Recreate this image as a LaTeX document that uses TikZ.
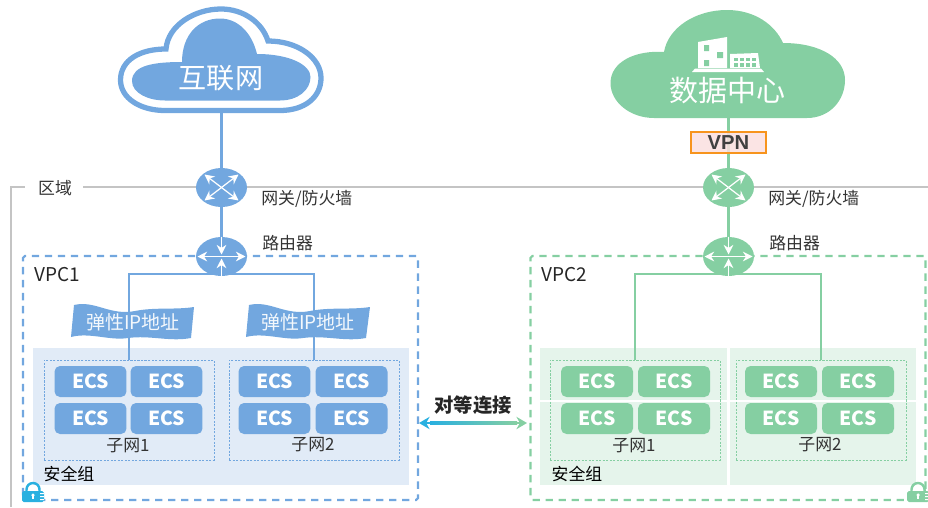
\documentclass[tikz,border=0pt]{standalone}
\usepackage{fontspec}
\setmainfont{Noto Sans CJK SC}
\newfontfamily\vpnfont{Liberation Sans}
\usetikzlibrary{shapes.geometric,arrows.meta,backgrounds}
\definecolor{netblue}{HTML}{72A7DF}
\definecolor{netgreen}{HTML}{85CFA2}
\definecolor{zoneblue}{HTML}{E1EBF7}
\definecolor{zonegreen}{HTML}{E5F4EB}
\definecolor{peercyan}{HTML}{29B0E0}
\definecolor{vpnpink}{HTML}{FADFDF}
\definecolor{vpnorange}{HTML}{F7941D}
\definecolor{regiongray}{HTML}{C4C4C4}
\tikzset{
	gatebox/.style={ellipse, fill=#1, minimum width=1.02cm, minimum height=0.78cm, inner sep=0pt},
	vpcbox/.style={draw=#1, dash pattern=on 4.2pt off 3.2pt, line width=1.2pt, rounded corners=1pt, minimum width=7.9cm, minimum height=4.88cm, inner sep=0pt},
	subnetbox/.style={draw=#1, dash pattern=on 1.2pt off 0.8pt, line width=0.4pt, minimum width=3.4cm, minimum height=2cm, inner sep=0pt},
	ecsbox/.style={fill=#1, text=white, font=\bfseries\fontsize{11}{11}\selectfont, rounded corners=0.11cm, minimum width=1.44cm, minimum height=0.62cm, inner sep=0pt},
	link/.style={draw=#1, line width=1.2pt},
	tag/.style={font=\fontsize{9.6}{9.6}\selectfont, text=black!80, inner sep=0pt},
	whitearrow/.style={white, line width=0.7pt, {Stealth[length=5.5pt,width=5.5pt]}-{Stealth[length=5.5pt,width=5.5pt]}},
	inarrow/.style={white, line width=0.7pt, -{Stealth[length=5.5pt,width=5.5pt]}}
}
\begin{document}
\begin{tikzpicture}[x=0.02cm,y=-0.02cm]
	\useasboundingbox (0,0) rectangle (928,507);
	% region outline
	\node[tag] (region) at (55,188) {区域};
	\coordinate (regionfoot) at (11,507);
	\coordinate (regionleft) at (25,187);
	\coordinate (regionright) at (83,187);
	\coordinate (regionend) at (928,187);
	\draw[regiongray, line width=1.2pt] (regionfoot) |- (regionleft);
	\draw[regiongray, line width=1.2pt] (regionright) -- (regionend);
	% clouds
	\draw[netblue, line width=3pt] (165,110.5) -- (280,110.5) .. controls (305,110.5) and (321,97) .. (321,78) .. controls (321,58) and (298,41) .. (268,41) .. controls (262,22) and (243,9) .. (221,9) .. controls (195,9) and (168,25) .. (166,49) .. controls (140,49) and (120.5,60) .. (120.5,80) .. controls (120.5,98) and (140,110.5) .. (165,110.5) -- cycle;
	\fill[netblue] (165,100.5) -- (280,100.5) .. controls (298,100.5) and (310.5,90) .. (310.5,77) .. controls (310.5,65) and (290,54) .. (257,54) .. controls (252,33) and (238,18.5) .. (220,18.5) .. controls (198,18.5) and (182,35) .. (182,62) .. controls (155,62) and (132,65) .. (132,81) .. controls (132,93) and (148,100.5) .. (165,100.5) -- cycle;
	\fill[netgreen] (654,118) -- (807,118) .. controls (830,118) and (845,100) .. (845,80) .. controls (845,58) and (820,43) .. (783,43) .. controls (775,25) and (755,10) .. (727,10) .. controls (695,10) and (668,28) .. (664,52) .. controls (635,50) and (610.5,62) .. (610.5,83) .. controls (610.5,102) and (630,118) .. (654,118) -- cycle;
	\node[white, font=\fontsize{16}{16}\selectfont, inner sep=0pt] (internet) at (221,78) {互联网};
	\node[white, font=\fontsize{16.5}{16.5}\selectfont, inner sep=0pt] (datacenter) at (727,91) {数据中心};
	\coordinate (internetfoot) at (221.5,112);
	\coordinate (datafoot) at (728.5,117);
	% building icon
	\fill[white] (698,42) -- (727,37) -- (727,68) -- (698,68) -- cycle;
	\fill[white] (730,54) -- (758,53) -- (760,68) -- (730,68) -- cycle;
	\fill[white] (692,72) -- (695,68.5) -- (761,68.5) -- (764,72) -- cycle;
	\fill[netgreen] (704,45) rectangle (709,51) (717,52) rectangle (723,58) (704,60) rectangle (709,66);
	\foreach \wx in {734,740,746,752} {
		\fill[netgreen] (\wx,57.5) rectangle ++(4,3.5);
		\fill[netgreen] (\wx,63) rectangle ++(4,3.5);
	}
	% vpc frames
	\node[vpcbox=netblue] (vpcA) at (220.5,378) {};
	\node[vpcbox=netgreen] (vpcB) at (728,378) {};
	\node[font=\fontsize{10.8}{10.8}\selectfont, text=black!85, anchor=west, inner sep=0pt] (vpclabelA) at (34,275) {VPC1};
	\node[font=\fontsize{10.8}{10.8}\selectfont, text=black!85, anchor=west, inner sep=0pt] (vpclabelB) at (541,275) {VPC2};
	% gateways and routers
	\node[gatebox=netblue] (gateA) at (221.5,187.5) {};
	\node[gatebox=netgreen] (gateB) at (728.5,187.5) {};
	\node[gatebox=netblue] (routerA) at (221.5,256.5) {};
	\node[gatebox=netgreen] (routerB) at (728.5,256.5) {};
	\foreach \gw in {gateA,gateB} {
		\begin{scope}[shift={(\gw)}]
			\draw[whitearrow] (-17,-13) -- (17,13);
			\draw[whitearrow] (-17,13) -- (17,-13);
		\end{scope}
	}
	\foreach \rt in {routerA,routerB} {
		\begin{scope}[shift={(\rt)}]
			\draw[whitearrow] (-24,0) -- (24,0);
			\draw[inarrow] (0,-20) -- (0,-2);
			\draw[inarrow] (0,20) -- (0,2);
		\end{scope}
	}
	\node[tag, anchor=west] (gatelabelA) at (261,199) {网关/防火墙};
	\node[tag, anchor=west] (gatelabelB) at (768,199) {网关/防火墙};
	\node[tag, anchor=west] (routerlabelA) at (262,243) {路由器};
	\node[tag, anchor=west] (routerlabelB) at (769,243) {路由器};
	% vpn
	\node[draw=vpnorange, fill=vpnpink, fill opacity=0.85, text opacity=1, line width=1.3pt, minimum width=1.5cm, minimum height=0.43cm, inner sep=0pt, text=black!75, font=\vpnfont\bfseries\fontsize{11.5}{11.5}\selectfont] (vpn) at (728.5,142.5) {VPN};
	% subnets
	\node[subnetbox=netblue] (subnetA) at (129,410) {};
	\node[subnetbox=netblue] (subnetB) at (314,410) {};
	\node[subnetbox=netgreen] (subnetC) at (635,410) {};
	\node[subnetbox=netgreen] (subnetD) at (821,410) {};
	\coordinate (busA) at (221.5,274);
	\coordinate (busB) at (728.5,274);
	% security groups and connectors
	\begin{scope}[on background layer]
		\fill[zoneblue] (33,348) rectangle (409,485);
		\fill[zonegreen] (540,348) rectangle (727,485);
		\fill[zonegreen] (730,348) rectangle (916,485);
		\fill[white] (540,400) rectangle (916,402);
		\draw[link=netblue] (internetfoot) -- (gateA);
		\draw[link=netblue] (gateA) -- (routerA);
		\draw[link=netgreen] (datafoot) -- (gateB);
		\draw[link=netgreen] (gateB) -- (routerB);
		\draw[link=netblue] (busA) -| (subnetA.north);
		\draw[link=netblue] (busA) -| (subnetB.north);
		\draw[link=netgreen] (busB) -| (subnetC.north);
		\draw[link=netgreen] (busB) -| (subnetD.north);
	\end{scope}
	% elastic ip flags
	\fill[netblue] (74,305) .. controls (95,300) and (110,316) .. (135,311) .. controls (155,307) and (175,310) .. (194,307) -- (191,338) .. controls (170,342) and (150,335) .. (128,338) .. controls (110,341) and (90,332) .. (71,337) -- cycle;
	\fill[netblue] (249,305) .. controls (270,300) and (285,316) .. (310,311) .. controls (330,307) and (350,310) .. (370,307) -- (366,338) .. controls (345,342) and (325,335) .. (303,338) .. controls (285,341) and (265,332) .. (246,337) -- cycle;
	\node[text=white!92!netblue, font=\fontsize{10.8}{10.8}\selectfont, inner sep=0pt] (eipA) at (133,322) {弹性IP地址};
	\node[text=white!92!netblue, font=\fontsize{10.8}{10.8}\selectfont, inner sep=0pt] (eipB) at (308,322) {弹性IP地址};
	% ecs boxes
	\foreach \ex/\ey/\en in {90.5/381.5/a,166.5/381.5/b,90.5/418.5/c,166.5/418.5/d,274.5/381.5/e,351.5/381.5/f,274.5/418.5/g,351.5/418.5/h} {
		\node[ecsbox=netblue] (ecs\en) at (\ex,\ey) {ECS};
	}
	\foreach \ex/\ey/\en in {597/381.5/i,674/381.5/j,597/418.5/k,674/418.5/l,781/381.5/m,858/381.5/n,781/418.5/o,858/418.5/p} {
		\node[ecsbox=netgreen] (ecs\en) at (\ex,\ey) {ECS};
	}
	\node[tag] (subnetlabelA) at (128,446) {子网1};
	\node[tag] (subnetlabelB) at (313,445) {子网2};
	\node[tag] (subnetlabelC) at (634,446) {子网1};
	\node[tag] (subnetlabelD) at (820,445) {子网2};
	\node[tag, text=black] (grouplabelA) at (69,474) {安全组};
	\node[tag, text=black] (grouplabelB) at (577,474) {安全组};
	% locks
	\foreach \lx/\lc in {33/peercyan,918/netgreen} {
		\begin{scope}[shift={(\lx,491)}]
			\draw[\lc, line width=1.4pt] (-6.5,1) -- (-6.5,-1.5) arc (180:0:3.7pt) -- (6.5,1);
			\fill[\lc, rounded corners=1pt] (-11,0) rectangle (11,11);
			\fill[white] (0,4) circle (1pt);
			\fill[white] (-0.7,4) rectangle (0.7,8);
			\fill[white] (7,2) rectangle (11,3) (7,5) rectangle (11,6) (7,8) rectangle (11,9);
		\end{scope}
	}
	% peering
	\coordinate (peerA) at (419,423);
	\coordinate (peerB) at (527,423);
	\coordinate (peerM) at (473,423);
	\draw[peercyan, line width=1.5pt, -{Stealth[length=6pt,width=7pt]}] (peerM) -- (peerA);
	\draw[netgreen, line width=1.5pt, -{Stealth[length=6pt,width=7pt]}] (peerM) -- (peerB);
	\shade[left color=peercyan, right color=netgreen] (430,421.5) rectangle (517,424.5);
	\node[font=\bfseries\fontsize{11}{11}\selectfont, text=black!85, inner sep=0pt] (peerlabel) at (473,405) {对等连接};
\end{tikzpicture}
\end{document}
